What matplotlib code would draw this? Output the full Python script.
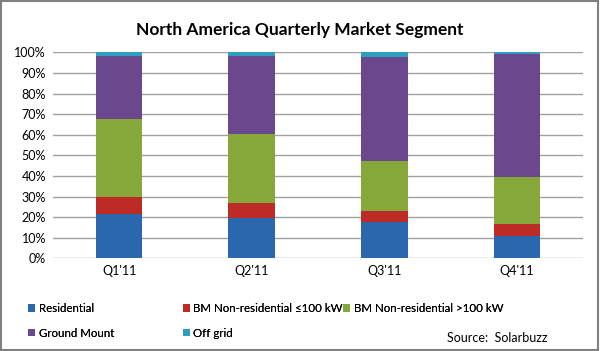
import numpy as np
import matplotlib.pyplot as plt
from matplotlib.patches import Rectangle

plt.rcParams['font.family'] = ['Lato', 'DejaVu Sans']

quarters = ["Q1'11", "Q2'11", "Q3'11", "Q4'11"]
segments = ["Residential", "BM Non-residential \u2264100 kW", "BM Non-residential >100 kW",
            "Ground Mount", "Off grid"]
residential = [21.5, 19.4, 17.8, 11.0]
bm_small = [8.1, 7.6, 5.3, 5.5]
bm_large = [38.2, 33.2, 24.0, 23.1]
ground_mount = [30.6, 38.0, 50.8, 59.6]
off_grid = [1.6, 1.8, 2.1, 0.8]
colors = ["#2A67AC", "#BE2A25", "#86A83B", "#6B478E", "#2E9EC1"]

fig = plt.figure(figsize=(6, 3.51), dpi=100)
ax = fig.add_axes([0.088, 0.264, 0.884, 0.587])

x = np.arange(len(quarters))
bottom = np.zeros(len(quarters))
bars = []
for vals, col, name in zip([residential, bm_small, bm_large, ground_mount, off_grid], colors, segments):
    b = ax.bar(x, vals, 0.35, bottom=bottom, color=col, label=name, zorder=3)
    bars.append(b)
    bottom += np.array(vals)

ax.set_ylim(0, 100)
ax.set_xlim(-0.5, len(quarters) - 0.5)
ax.set_yticks(np.arange(0, 101, 10))
ax.set_yticklabels(["%d%%" % v for v in range(0, 101, 10)], fontsize=9)
ax.set_xticks(x)
ax.set_xticklabels(quarters, fontsize=9)
ax.tick_params(length=0, pad=5)
ax.grid(axis='y', color='#A0A0A0', linewidth=1, zorder=0)
for s in ax.spines.values():
    s.set_visible(False)

fig.text(0.5, 0.915, "North America Quarterly Market Segment", ha='center', va='center',
         fontsize=12.5, fontweight='bold')

# legend in three columns, placed like the original
cols = [[0, 3], [1, 4], [2]]
xpos = [0.047, 0.305, 0.572]
for c, xp in zip(cols, xpos):
    leg = fig.legend([bars[i] for i in c], [segments[i] for i in c], loc='upper left',
                     bbox_to_anchor=(xp, 0.137), frameon=False, fontsize=8.3,
                     handlelength=0.6, handleheight=0.6, handletextpad=0.3,
                     labelspacing=1.2, borderaxespad=0, borderpad=0)
    fig.add_artist(leg)

fig.text(0.745, 0.02, "Source:  Solarbuzz", fontsize=9, va='bottom')

fig.add_artist(Rectangle((0.002, 0.003), 0.995, 0.994, transform=fig.transFigure,
                         fill=False, edgecolor='#808080', linewidth=1.5))

fig.savefig("out.png", dpi=100)
